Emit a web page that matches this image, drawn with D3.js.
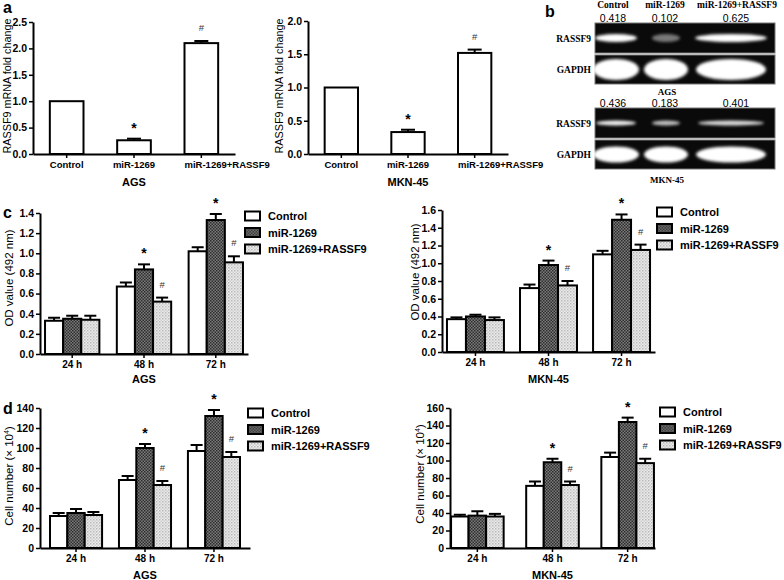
<!DOCTYPE html>
<html>
<head>
<meta charset="utf-8">
<script src="https://cdn.jsdelivr.net/npm/d3@7"></script>
<style>
body { margin: 0; background: #fff; }
svg { display: block; }
text { font-family: Arial, "Liberation Sans", sans-serif; fill: #000; }
.serif { font-family: "Times New Roman", "Liberation Serif", serif; font-weight: bold; }
</style>
</head>
<body>
<script>

/******** Data *********/

var groups = ["Control", "miR-1269", "miR-1269+RASSF9"]
var times = ["24 h", "48 h", "72 h"]

// panel a: RASSF9 mRNA fold change
var foldAGS = [1.0, 0.26, 2.10]
var foldAGSErr = [0, 0.03, 0.04]
var foldMKN = [1.0, 0.33, 1.52]
var foldMKNErr = [0, 0.035, 0.05]
var foldMarks = ["", "*", "#"]

// panel b: RT-PCR ratios and band strength
var gelAGS = ["0.418", "0.102", "0.625"]
var gelMKN = ["0.436", "0.183", "0.401"]
var bandAGS = [1.0, 0.45, 1.0]
var bandMKN = [0.95, 0.75, 0.85]

// panel c: OD value (492 nm), one array per group over 24/48/72 h
var odAGSControl = [0.33, 0.67, 1.02]
var odAGSMir = [0.35, 0.84, 1.33]
var odAGSRassf = [0.34, 0.52, 0.91]
var odAGSControlErr = [0.03, 0.04, 0.04]
var odAGSMirErr = [0.03, 0.05, 0.06]
var odAGSRassfErr = [0.04, 0.04, 0.06]

var odMKNControl = [0.37, 0.72, 1.10]
var odMKNMir = [0.40, 0.98, 1.49]
var odMKNRassf = [0.36, 0.75, 1.15]
var odMKNControlErr = [0.02, 0.04, 0.04]
var odMKNMirErr = [0.02, 0.05, 0.06]
var odMKNRassfErr = [0.03, 0.05, 0.06]

// panel d: cell number (x 10^4)
var cellAGSControl = [32, 68, 97]
var cellAGSMir = [35, 100, 132]
var cellAGSRassf = [33, 63, 91]
var cellAGSControlErr = [3, 4, 6]
var cellAGSMirErr = [4, 4, 6]
var cellAGSRassfErr = [3, 4, 5]

var cellMKNControl = [36, 71, 104]
var cellMKNMir = [37, 98, 144]
var cellMKNRassf = [36, 72, 97]
var cellMKNControlErr = [2, 5, 5]
var cellMKNMirErr = [5, 4, 5]
var cellMKNRassfErr = [3, 4, 5]

var mirMarks = ["", "*", "*"]
var rassfMarks = ["", "#", "#"]

/******** Setup *********/

var svg = d3.select("body")
  .append("svg")
    .attr("width", 784)
    .attr("height", 580)

var defs = svg.append("defs")

var pd = defs.append("pattern")
  .attr("id", "dark")
  .attr("width", 3).attr("height", 3)
  .attr("patternUnits", "userSpaceOnUse")
pd.append("rect").attr("width", 3).attr("height", 3).attr("fill", "#7a7a7a")
pd.append("rect").attr("width", 1.5).attr("height", 1.5).attr("fill", "#2e2e2e")
pd.append("rect").attr("x", 1.5).attr("y", 1.5).attr("width", 1.5).attr("height", 1.5).attr("fill", "#2e2e2e")

var pl = defs.append("pattern")
  .attr("id", "light")
  .attr("width", 3).attr("height", 3)
  .attr("patternUnits", "userSpaceOnUse")
pl.append("rect").attr("width", 3).attr("height", 3).attr("fill", "#ececec")
pl.append("rect").attr("width", 1.5).attr("height", 1.5).attr("fill", "#b8b8b8")
pl.append("rect").attr("x", 1.5).attr("y", 1.5).attr("width", 1.5).attr("height", 1.5).attr("fill", "#d0d0d0")

defs.append("filter")
  .attr("id", "blur")
  .attr("x", "-30%").attr("y", "-60%").attr("width", "160%").attr("height", "220%")
  .append("feGaussianBlur")
    .attr("stdDeviation", 1.6)

var fills = ["#fff", "url(#dark)", "url(#light)"]

/******** Bar panel *********/

function barPanel(cfg) {
  var g = svg.append("g")

  var y = d3.scaleLinear()
    .domain([0, cfg.yMax])
    .range([cfg.bottom, cfg.top])

  var x0 = d3.scaleBand()
    .domain(cfg.cats)
    .range([cfg.left, cfg.right])
    .paddingInner(cfg.pin)
    .paddingOuter(cfg.pout)

  var x1 = d3.scaleBand()
    .domain(d3.range(cfg.series.length))
    .range([0, x0.bandwidth()])

  var rows = []
  cfg.series.forEach(function(s, si) {
    cfg.cats.forEach(function(c, ci) {
      rows.push({
        cat: c, s: si, v: s.values[ci], e: s.err[ci],
        mark: s.marks ? s.marks[ci] : "",
        fill: s.fill ? s.fill[ci] : fills[si]
      })
    })
  })

  var bx = function(d) { return x0(d.cat) + x1(d.s) }
  var cx = function(d) { return bx(d) + x1.bandwidth() / 2 }

  g.selectAll("rect.bar")
    .data(rows)
    .enter()
    .append("rect")
      .attr("class", "bar")
      .attr("x", bx)
      .attr("y", function(d) { return y(d.v) })
      .attr("width", x1.bandwidth())
      .attr("height", function(d) { return y(0) - y(d.v) })
      .attr("fill", function(d) { return d.fill })
      .attr("stroke", "#000")
      .attr("stroke-width", 2)

  var errRows = rows.filter(function(d) { return d.e > 0 })

  g.selectAll("line.err")
    .data(errRows)
    .enter()
    .append("line")
      .attr("x1", cx).attr("x2", cx)
      .attr("y1", function(d) { return y(d.v) })
      .attr("y2", function(d) { return y(d.v + d.e) })
      .attr("stroke", "#000")
      .attr("stroke-width", 2)

  g.selectAll("line.cap")
    .data(errRows)
    .enter()
    .append("line")
      .attr("x1", function(d) { return cx(d) - cfg.cap / 2 })
      .attr("x2", function(d) { return cx(d) + cfg.cap / 2 })
      .attr("y1", function(d) { return y(d.v + d.e) })
      .attr("y2", function(d) { return y(d.v + d.e) })
      .attr("stroke", "#000")
      .attr("stroke-width", 2)

  g.selectAll("text.mark")
    .data(rows.filter(function(d) { return d.mark }))
    .enter()
    .append("text")
      .attr("x", cx)
      .attr("y", function(d) {
        return y(d.v + d.e) - (d.mark == "*" ? 6 : 10)
      })
      .attr("text-anchor", "middle")
      .attr("font-size", function(d) { return d.mark == "*" ? "14px" : "9.5px" })
      .attr("font-weight", function(d) { return d.mark == "*" ? "bold" : "normal" })
      .style("fill", function(d) { return d.mark == "*" ? "#000" : "#333" })
      .text(function(d) { return d.mark })

  // axes
  var yAxis = g.append("g")
    .attr("transform", "translate(" + cfg.left + ",0)")
    .call(d3.axisLeft(y).tickValues(cfg.ticks).tickFormat(d3.format(cfg.fmt)).tickSize(4).tickSizeOuter(0))

  var xAxis = g.append("g")
    .attr("transform", "translate(0," + cfg.bottom + ")")
    .call(d3.axisBottom(x0).tickSize(4).tickSizeOuter(0))

  g.selectAll(".domain").attr("stroke-width", 2)
  g.selectAll(".tick line").attr("stroke-width", 1.5)
  g.selectAll(".tick text")
    .attr("font-weight", "bold")
    .attr("font-family", "Arial, 'Liberation Sans', sans-serif")
  yAxis.selectAll(".tick text").attr("x", -6).attr("font-size", "10.5px")
  xAxis.selectAll(".tick text").attr("y", 7).attr("font-size", cfg.xtSize || "10px")

  if (cfg.longLabel) {
    xAxis.selectAll(".tick text")
      .filter(function(d) { return d == cfg.longLabel })
      .attr("text-anchor", "start")
      .attr("x", -x0.bandwidth() / 2)
  }

  // titles
  g.append("text")
    .attr("transform", "translate(" + cfg.ytx + "," + cfg.yty + ") rotate(-90)")
    .attr("text-anchor", "middle")
    .attr("font-size", cfg.ytSize || "11.5px")
    .text(cfg.yTitle)
    .call(function(t) {
      if (cfg.ySup) {
        t.append("tspan").attr("font-size", "7px").attr("dy", -4).text(cfg.ySup)
        t.append("tspan").attr("dy", 4).text(")")
      }
    })

  g.append("text")
    .attr("x", (cfg.left + cfg.right) / 2)
    .attr("y", cfg.xty)
    .attr("text-anchor", "middle")
    .attr("font-size", "11px")
    .attr("font-weight", "bold")
    .text(cfg.xTitle)

  // legend
  if (cfg.legend) {
    var lg = g.append("g")
      .attr("transform", "translate(" + cfg.legend[0] + "," + cfg.legend[1] + ")")
    var items = lg.selectAll("g")
      .data(groups)
      .enter()
      .append("g")
        .attr("transform", function(d, i) { return "translate(0," + (i * 16.5) + ")" })
    items.append("rect")
      .attr("x", 0).attr("y", -4.5)
      .attr("width", 15).attr("height", 9)
      .attr("fill", function(d, i) { return fills[i] })
      .attr("stroke", "#000")
      .attr("stroke-width", 2)
    items.append("text")
      .attr("x", 23)
      .attr("y", 4.2)
      .attr("font-size", "11px")
      .attr("font-weight", "bold")
      .text(function(d) { return d })
  }
}

/******** Panel a *********/

barPanel({
  cats: groups,
  series: [{ values: foldAGS, err: foldAGSErr, marks: foldMarks, fill: ["#fff", "#fff", "#fff"] }],
  left: 33, right: 235, bottom: 154, top: 22,
  yMax: 2.5, ticks: d3.range(0, 2.51, 0.5), fmt: ".1f",
  pin: 0.5, pout: 0.25, cap: 14, xtSize: "9.5px",
  yTitle: "RASSF9 mRNA fold change", ytx: 11, yty: 86, ytSize: "10.8px",
  xTitle: "AGS", xty: 186, longLabel: "miR-1269+RASSF9"
})

barPanel({
  cats: groups,
  series: [{ values: foldMKN, err: foldMKNErr, marks: foldMarks, fill: ["#fff", "#fff", "#fff"] }],
  left: 308, right: 508, bottom: 154, top: 21,
  yMax: 2.0, ticks: d3.range(0, 2.01, 0.5), fmt: ".1f",
  pin: 0.5, pout: 0.25, cap: 14, xtSize: "9.5px",
  yTitle: "RASSF9 mRNA fold change", ytx: 283, yty: 86, ytSize: "10.8px",
  xTitle: "MKN-45", xty: 186, longLabel: "miR-1269+RASSF9"
})

/******** Panel c *********/

barPanel({
  cats: times,
  series: [
    { values: odAGSControl, err: odAGSControlErr },
    { values: odAGSMir, err: odAGSMirErr, marks: mirMarks },
    { values: odAGSRassf, err: odAGSRassfErr, marks: rassfMarks }
  ],
  left: 40, right: 248, bottom: 354, top: 213,
  yMax: 1.4, ticks: d3.range(0, 1.41, 0.2), fmt: ".1f",
  pin: 0.243, pout: 0.07, cap: 12,
  yTitle: "OD value (492 nm)", ytx: 13, yty: 278,
  xTitle: "AGS", xty: 383, legend: [245, 216]
})

barPanel({
  cats: times,
  series: [
    { values: odMKNControl, err: odMKNControlErr },
    { values: odMKNMir, err: odMKNMirErr, marks: mirMarks },
    { values: odMKNRassf, err: odMKNRassfErr, marks: rassfMarks }
  ],
  left: 442, right: 655, bottom: 352, top: 210,
  yMax: 1.6, ticks: d3.range(0, 1.61, 0.2), fmt: ".1f",
  pin: 0.22, pout: 0.068, cap: 12,
  yTitle: "OD value (492 nm)", ytx: 419, yty: 272,
  xTitle: "MKN-45", xty: 383, legend: [657, 212]
})

/******** Panel d *********/

barPanel({
  cats: times,
  series: [
    { values: cellAGSControl, err: cellAGSControlErr },
    { values: cellAGSMir, err: cellAGSMirErr, marks: mirMarks },
    { values: cellAGSRassf, err: cellAGSRassfErr, marks: rassfMarks }
  ],
  left: 40, right: 250, bottom: 548, top: 408,
  yMax: 140, ticks: d3.range(0, 141, 20), fmt: "d",
  pin: 0.245, pout: 0.145, cap: 12,
  yTitle: "Cell number (\u00d7 10", ySup: "4", ytx: 13, yty: 476,
  xTitle: "AGS", xty: 579, legend: [248, 413]
})

barPanel({
  cats: times,
  series: [
    { values: cellMKNControl, err: cellMKNControlErr },
    { values: cellMKNMir, err: cellMKNMirErr, marks: mirMarks },
    { values: cellMKNRassf, err: cellMKNRassfErr, marks: rassfMarks }
  ],
  left: 450, right: 655, bottom: 548, top: 408,
  yMax: 160, ticks: d3.range(0, 161, 20), fmt: "d",
  pin: 0.3, pout: 0.014, cap: 12,
  yTitle: "Cell number (\u00d7 10", ySup: "4", ytx: 424, yty: 474,
  xTitle: "MKN-45", xty: 579, legend: [660, 412]
})

/******** Panel b: gels *********/

var laneX = d3.scaleOrdinal().domain(groups).range([616, 666, 731])

svg.selectAll("text.lane")
  .data(groups)
  .enter()
  .append("text")
    .attr("class", "serif")
    .attr("x", function(d, i) { return [613, 665, 737][i] })
    .attr("y", 8)
    .attr("text-anchor", "middle")
    .attr("font-size", "9.5px")
    .text(function(d) { return d })

function gel(top, ratios, band, cell) {
  var g = svg.append("g")
  g.selectAll("text.num")
    .data(ratios)
    .enter()
    .append("text")
      .attr("x", function(d, i) { return [613, 665, 736][i] })
      .attr("y", top - 1)
      .attr("text-anchor", "middle")
      .attr("font-size", "10.5px")
      .text(function(d) { return d })

  var rows = [
    { name: "RASSF9", y: top, h: 30, bh: cell == "AGS" ? 8 : 5, amp: band, w: cell == "AGS" ? [42, 28, 72] : [40, 28, 66] },
    { name: "GAPDH", y: top + 32, h: 29, bh: cell == "AGS" ? 21 : 16, amp: [1, 1, 1], w: [46, 44, 70] }
  ]

  rows.forEach(function(r) {
    g.append("rect")
      .attr("x", 595).attr("y", r.y)
      .attr("width", 180).attr("height", r.h)
      .attr("fill", "#0a0a0a")
      .attr("stroke", "#777")
      .attr("stroke-width", 1)
    g.selectAll(null)
      .data(groups)
      .enter()
      .append("ellipse")
        .attr("cx", function(d) { return laneX(d) })
        .attr("cy", r.y + r.h / 2)
        .attr("rx", function(d, i) { return r.w[i] / 2 })
        .attr("ry", r.bh / 2)
        .attr("fill", "#fff")
        .attr("opacity", function(d, i) { return r.amp[i] })
        .attr("filter", "url(#blur)")
    g.append("text")
      .attr("class", "serif")
      .attr("x", 591)
      .attr("y", r.y + r.h / 2 + 3.5)
      .attr("text-anchor", "end")
      .attr("font-size", "9.5px")
      .text(r.name)
  })

  g.append("text")
    .attr("class", "serif")
    .attr("x", 667)
    .attr("y", top + 32 + 29 + (cell == "AGS" ? 11 : 14))
    .attr("text-anchor", "middle")
    .attr("font-size", "9px")
    .text(cell)
}

gel(23, gelAGS, bandAGS, "AGS")
gel(108, gelMKN, bandMKN, "MKN-45")

/******** Panel letters *********/

svg.selectAll("text.letter")
  .data([["a", 3, 13], ["b", 545, 17], ["c", 3, 218], ["d", 3, 414]])
  .enter()
  .append("text")
    .attr("x", function(d) { return d[1] })
    .attr("y", function(d) { return d[2] })
    .attr("font-size", "16px")
    .attr("font-weight", "bold")
    .text(function(d) { return d[0] })

</script>
</body>
</html>
